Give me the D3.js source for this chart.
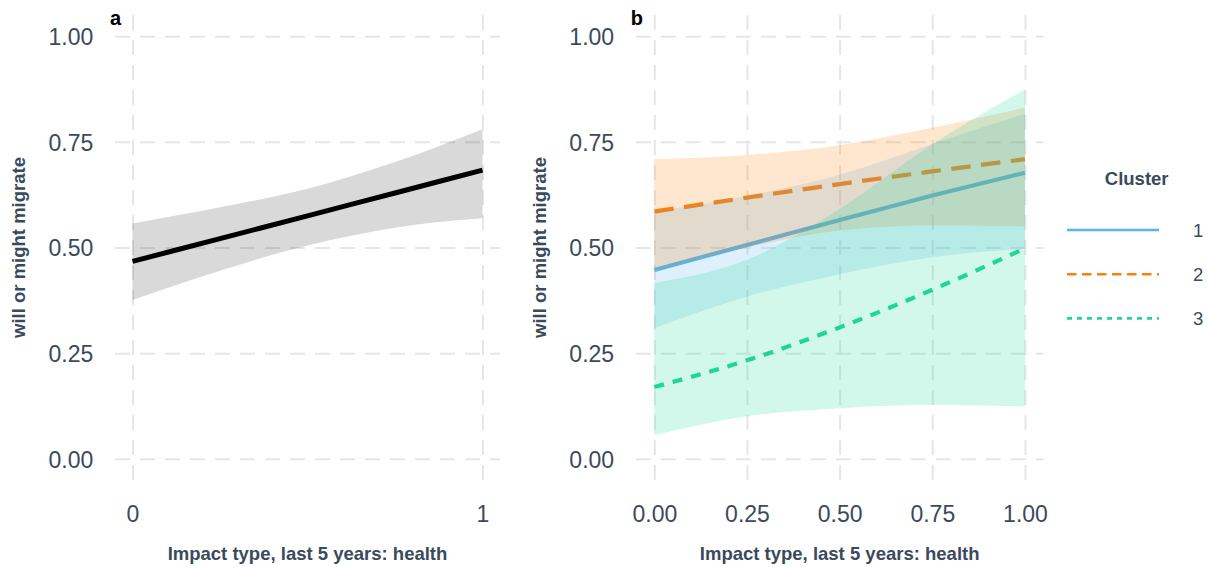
<!DOCTYPE html>
<meta charset="utf-8">
<style>
  html, body { margin: 0; padding: 0; background: #fff; overflow: hidden; }
  text { font-family: "Liberation Sans", Arial, sans-serif; fill: #3a4a5c; }
  .tick text { font-size: 23px; }
  .grid line { stroke: #e6e6e6; stroke-width: 2px; stroke-dasharray: 15,10; }
  .axis-title { font-size: 18.5px; font-weight: bold; }
  .tag { font-size: 20px; font-weight: bold; fill: #000; }
</style>
<body>
<svg></svg>
<script src="https://d3js.org/d3.v7.min.js"></script>
<script>

// x positions where the fitted curves were read
var xs = [0, 0.25, 0.5, 0.75, 1];

// y ticks (shared)
var yTicks = [0, 0.25, 0.5, 0.75, 1];
var aTicks = [0, 1];
var bTicks = [0, 0.25, 0.5, 0.75, 1];

// panel a: all respondents
var aFit  = [0.467, 0.521, 0.575, 0.629, 0.683];
var aLow  = [0.376, 0.445, 0.505, 0.547, 0.569];
var aHigh = [0.557, 0.595, 0.639, 0.702, 0.780];

// panel b: by cluster
var clusters = ["1", "2", "3"];
var c1Fit  = [0.447, 0.506, 0.565, 0.623, 0.677];
var c1Low  = [0.309, 0.384, 0.437, 0.477, 0.497];
var c1High = [0.585, 0.622, 0.672, 0.745, 0.817];
var c2Fit  = [0.585, 0.618, 0.650, 0.680, 0.709];
var c2Low  = [0.447, 0.500, 0.540, 0.552, 0.550];
var c2High = [0.709, 0.719, 0.742, 0.783, 0.831];
var c3Fit  = [0.170, 0.233, 0.311, 0.400, 0.498];
var c3Low  = [0.056, 0.101, 0.120, 0.128, 0.124];
var c3High = [0.416, 0.471, 0.591, 0.744, 0.874];

var xLabel = "Impact type, last 5 years: health";
var yLabel = "will or might migrate";

var colors = ["#55b6ef", "#fb800f", "#1fd59a"];
var dashes = [null, "19.5,10.5", "10,9"];
var legendDashes = [null, "9.5,5.5", "5,5"];

var width = 1209, height = 567;
var svg = d3.select("svg").attr("width", width).attr("height", height);

var plotTop = 15, plotBottom = 480;
var y = d3.scaleLinear().domain([-0.05, 1.05]).range([plotBottom, plotTop]);

function panel(left, right, ticks, fmt, tag) {
  var x = d3.scaleLinear().domain([-0.05, 1.05]).range([left, right]);
  var g = svg.append("g");

  var gy = g.append("g").attr("class", "grid")
    .attr("transform", "translate(" + left + ",0)")
    .call(d3.axisLeft(y).tickValues(yTicks).tickFormat(d3.format(".2f"))
      .tickSize(-(right - left)).tickPadding(21.7));
  gy.select(".domain").remove();
  gy.selectAll("text").attr("dy", "0.36em");

  var gx = g.append("g").attr("class", "grid")
    .attr("transform", "translate(0," + plotBottom + ")")
    .call(d3.axisBottom(x).tickValues(ticks).tickFormat(fmt)
      .tickSize(-(plotBottom - plotTop)).tickPadding(25.4));
  gx.select(".domain").remove();

  g.append("text").attr("class", "axis-title")
    .attr("x", (left + right) / 2).attr("y", 560)
    .attr("text-anchor", "middle").text(xLabel);

  g.append("text").attr("class", "axis-title")
    .attr("transform", "translate(" + (left - 90) + "," + ((plotTop + plotBottom) / 2) + ") rotate(-90)")
    .attr("text-anchor", "middle").text(yLabel);

  g.append("text").attr("class", "tag")
    .attr("x", left - 5).attr("y", 25).text(tag);

  return {g: g, x: x};
}

var pa = panel(115, 500, aTicks, d3.format("d"), "a");
var pb = panel(635.8, 1043.5, bTicks, d3.format(".2f"), "b");

function area(x) {
  return d3.area()
    .x(function(d) { return x(d.x); })
    .y0(function(d) { return y(d.lo); })
    .y1(function(d) { return y(d.hi); })
    .curve(d3.curveMonotoneX);
}
function line(x) {
  return d3.line()
    .x(function(d) { return x(d.x); })
    .y(function(d) { return y(d.fit); })
    .curve(d3.curveMonotoneX);
}
function rows(fit, lo, hi) {
  return xs.map(function(v, i) { return {x: v, fit: fit[i], lo: lo[i], hi: hi[i]}; });
}

// panel a
var aData = rows(aFit, aLow, aHigh);
pa.g.append("path").datum(aData)
  .attr("d", area(pa.x)).attr("fill", "#000").attr("fill-opacity", 0.15);
pa.g.append("path").datum(aData)
  .attr("d", line(pa.x)).attr("fill", "none")
  .attr("stroke", "#000").attr("stroke-width", 5);

// panel b: lines first, ribbons on top
var bData = [
  rows(c1Fit, c1Low, c1High),
  rows(c2Fit, c2Low, c2High),
  rows(c3Fit, c3Low, c3High)
];

pb.g.selectAll(".fit").data(bData).enter().append("path")
  .attr("class", "fit")
  .attr("d", line(pb.x)).attr("fill", "none")
  .attr("stroke", function(d, i) { return colors[i]; })
  .attr("stroke-width", 4.2)
  .attr("stroke-dasharray", function(d, i) { return dashes[i]; });

pb.g.selectAll(".band").data(bData).enter().append("path")
  .attr("class", "band")
  .attr("d", area(pb.x))
  .attr("fill", function(d, i) { return colors[i]; })
  .attr("fill-opacity", 0.2);

// legend
var lg = svg.append("g");
lg.append("text").attr("class", "axis-title")
  .attr("x", 1136.7).attr("y", 185).attr("text-anchor", "middle").text("Cluster");

var keys = lg.selectAll(".key").data(clusters).enter().append("g")
  .attr("class", "key")
  .attr("transform", function(d, i) { return "translate(0," + (230 + i * 44.2) + ")"; });
keys.append("line")
  .attr("x1", 1067).attr("x2", 1159).attr("y1", 0).attr("y2", 0)
  .attr("stroke", function(d, i) { return colors[i]; })
  .attr("stroke-width", 2.6)
  .attr("stroke-dasharray", function(d, i) { return legendDashes[i]; });
keys.append("text")
  .attr("x", 1193).attr("y", 0).attr("dy", "0.36em")
  .style("font-size", "18.5px").text(function(d) { return d; });

</script>
</body>
